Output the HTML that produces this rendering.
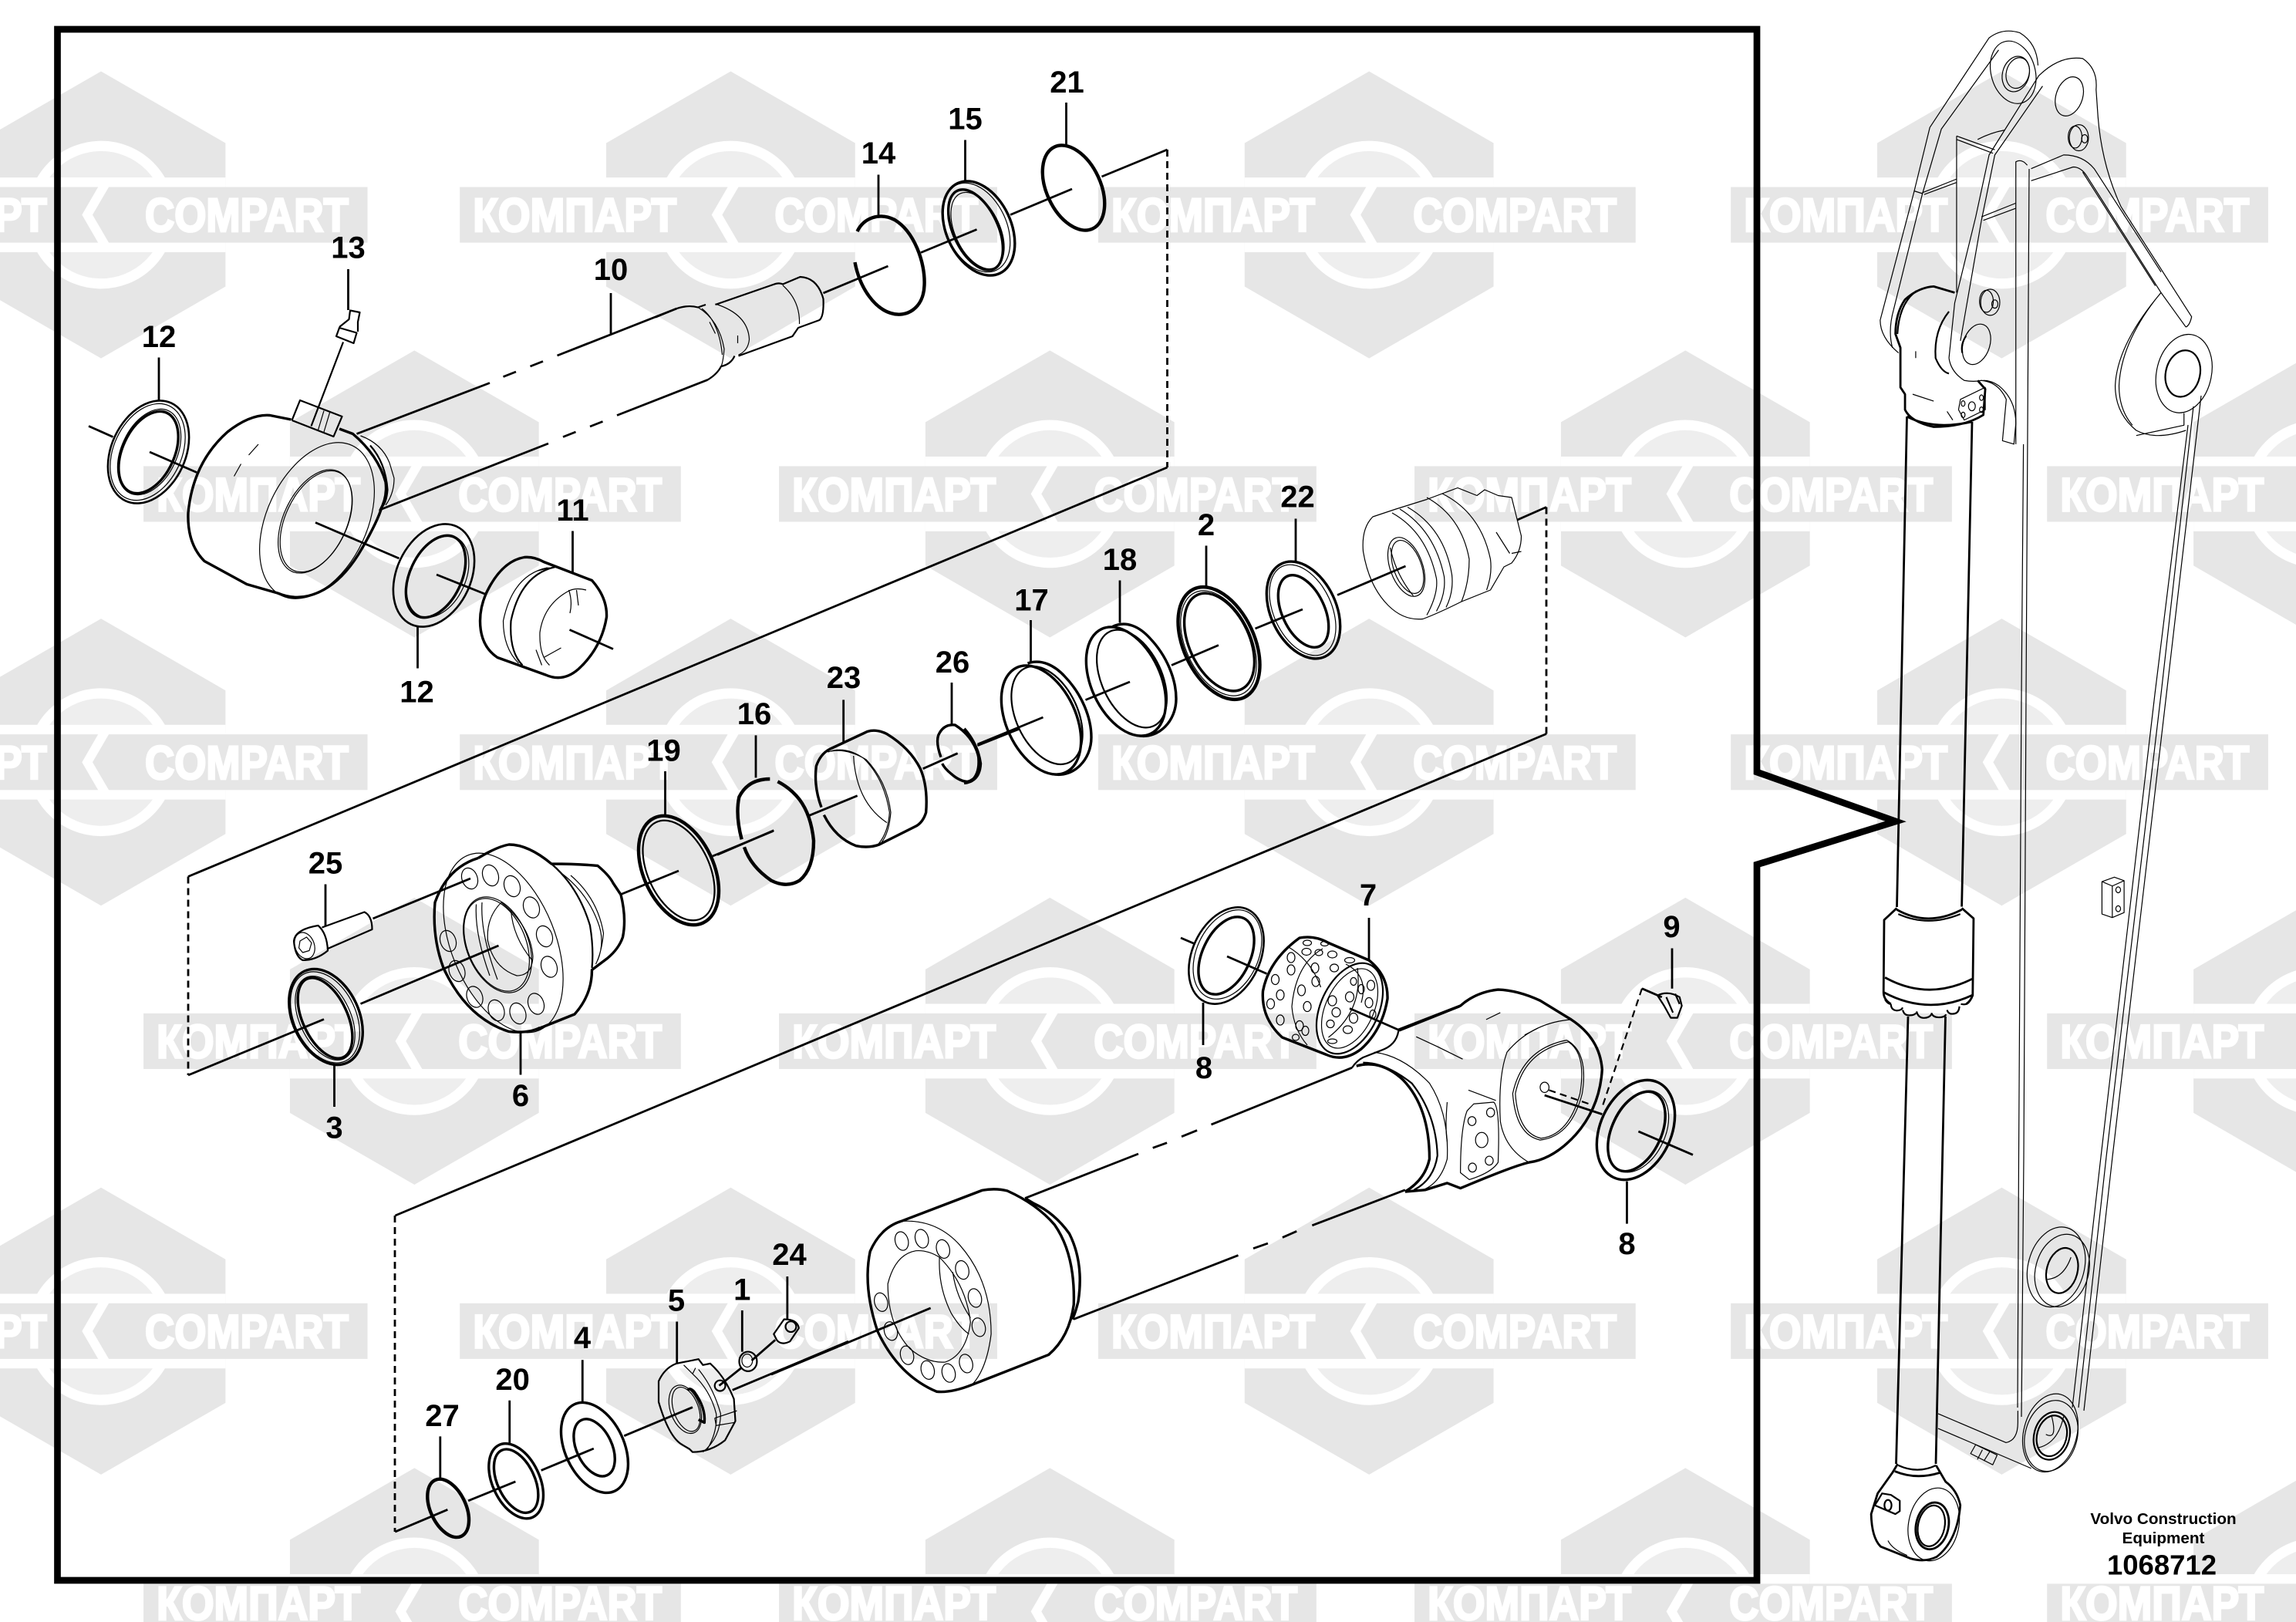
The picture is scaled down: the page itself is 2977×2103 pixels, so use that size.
<!DOCTYPE html>
<html><head><meta charset="utf-8"><style>
html,body{margin:0;padding:0;background:#fff;width:2977px;height:2103px;overflow:hidden}
svg{display:block;overflow:hidden}
.d *{fill:none;stroke:#000;vector-effect:non-scaling-stroke;stroke-linejoin:round}
.h{stroke-width:3.4}.m{stroke-width:2.2}.t{stroke-width:1.2}
.d .h *{stroke-width:3.4}.d .m *{stroke-width:2.2}.d .t *{stroke-width:1.2}.d .k *{stroke-width:2.8}
.d .r{stroke-width:4.4}
.n text{font:bold 40px "Liberation Sans",sans-serif;text-anchor:middle;fill:#000}
.w text{font:bold 32px "Liberation Sans","DejaVu Sans",sans-serif;fill:#fff;stroke:#fff;stroke-width:1.5}
</style></head><body>
<svg xmlns="http://www.w3.org/2000/svg" width="2977" height="2103" viewBox="0 0 2977 2103">
<defs><g id="L">
<polygon points="0,-98 85,-49 85,49 0,98 -85,49 -85,-49" fill="#e6e6e6"/>
<circle r="47" fill="#eeeeee" stroke="#fff" stroke-width="7"/>
<rect x="-85" y="-25.5" width="170" height="51" fill="#fff"/>
<polygon points="-185,-19 -2,-19 -13,0 -2,19 -185,19" fill="#e6e6e6"/>
<polygon points="5.3,-19 -5.8,0 5.3,19 182,19 182,-19" fill="#e6e6e6"/>
</g></defs>
<rect width="2977" height="2103" fill="#fff"/>
<g class="w" transform="scale(1.8986)">
<use href="#L" x="69" y="146.7"/><use href="#L" x="499" y="146.7"/><use href="#L" x="935" y="146.7"/><use href="#L" x="1367" y="146.7"/>
<use href="#L" x="283" y="337.3"/><use href="#L" x="717" y="337.3"/><use href="#L" x="1151" y="337.3"/><use href="#L" x="1583" y="337.3"/>
<use href="#L" x="69" y="520.5"/><use href="#L" x="499" y="520.5"/><use href="#L" x="935" y="520.5"/><use href="#L" x="1367" y="520.5"/>
<use href="#L" x="283" y="711"/><use href="#L" x="717" y="711"/><use href="#L" x="1151" y="711"/><use href="#L" x="1583" y="711"/>
<use href="#L" x="69" y="909"/><use href="#L" x="499" y="909"/><use href="#L" x="935" y="909"/><use href="#L" x="1367" y="909"/>
<use href="#L" x="283" y="1100.5"/><use href="#L" x="717" y="1100.5"/><use href="#L" x="1151" y="1100.5"/><use href="#L" x="1583" y="1100.5"/>
<text x="-107" y="158" textLength="139" lengthAdjust="spacingAndGlyphs">КОМПАРТ</text><text x="99" y="158" textLength="139" lengthAdjust="spacingAndGlyphs">COMPART</text>
<text x="323" y="158" textLength="139" lengthAdjust="spacingAndGlyphs">КОМПАРТ</text><text x="529" y="158" textLength="139" lengthAdjust="spacingAndGlyphs">COMPART</text>
<text x="759" y="158" textLength="139" lengthAdjust="spacingAndGlyphs">КОМПАРТ</text><text x="965" y="158" textLength="139" lengthAdjust="spacingAndGlyphs">COMPART</text>
<text x="1191" y="158" textLength="139" lengthAdjust="spacingAndGlyphs">КОМПАРТ</text><text x="1397" y="158" textLength="139" lengthAdjust="spacingAndGlyphs">COMPART</text>
<text x="107" y="349" textLength="139" lengthAdjust="spacingAndGlyphs">КОМПАРТ</text><text x="313" y="349" textLength="139" lengthAdjust="spacingAndGlyphs">COMPART</text>
<text x="541" y="349" textLength="139" lengthAdjust="spacingAndGlyphs">КОМПАРТ</text><text x="747" y="349" textLength="139" lengthAdjust="spacingAndGlyphs">COMPART</text>
<text x="975" y="349" textLength="139" lengthAdjust="spacingAndGlyphs">КОМПАРТ</text><text x="1181" y="349" textLength="139" lengthAdjust="spacingAndGlyphs">COMPART</text>
<text x="1407" y="349" textLength="139" lengthAdjust="spacingAndGlyphs">КОМПАРТ</text>
<text x="-107" y="532" textLength="139" lengthAdjust="spacingAndGlyphs">КОМПАРТ</text><text x="99" y="532" textLength="139" lengthAdjust="spacingAndGlyphs">COMPART</text>
<text x="323" y="532" textLength="139" lengthAdjust="spacingAndGlyphs">КОМПАРТ</text><text x="529" y="532" textLength="139" lengthAdjust="spacingAndGlyphs">COMPART</text>
<text x="759" y="532" textLength="139" lengthAdjust="spacingAndGlyphs">КОМПАРТ</text><text x="965" y="532" textLength="139" lengthAdjust="spacingAndGlyphs">COMPART</text>
<text x="1191" y="532" textLength="139" lengthAdjust="spacingAndGlyphs">КОМПАРТ</text><text x="1397" y="532" textLength="139" lengthAdjust="spacingAndGlyphs">COMPART</text>
<text x="107" y="722.5" textLength="139" lengthAdjust="spacingAndGlyphs">КОМПАРТ</text><text x="313" y="722.5" textLength="139" lengthAdjust="spacingAndGlyphs">COMPART</text>
<text x="541" y="722.5" textLength="139" lengthAdjust="spacingAndGlyphs">КОМПАРТ</text><text x="747" y="722.5" textLength="139" lengthAdjust="spacingAndGlyphs">COMPART</text>
<text x="975" y="722.5" textLength="139" lengthAdjust="spacingAndGlyphs">КОМПАРТ</text><text x="1181" y="722.5" textLength="139" lengthAdjust="spacingAndGlyphs">COMPART</text>
<text x="1407" y="722.5" textLength="139" lengthAdjust="spacingAndGlyphs">КОМПАРТ</text>
<text x="-107" y="920.5" textLength="139" lengthAdjust="spacingAndGlyphs">КОМПАРТ</text><text x="99" y="920.5" textLength="139" lengthAdjust="spacingAndGlyphs">COMPART</text>
<text x="323" y="920.5" textLength="139" lengthAdjust="spacingAndGlyphs">КОМПАРТ</text><text x="529" y="920.5" textLength="139" lengthAdjust="spacingAndGlyphs">COMPART</text>
<text x="759" y="920.5" textLength="139" lengthAdjust="spacingAndGlyphs">КОМПАРТ</text><text x="965" y="920.5" textLength="139" lengthAdjust="spacingAndGlyphs">COMPART</text>
<text x="1191" y="920.5" textLength="139" lengthAdjust="spacingAndGlyphs">КОМПАРТ</text><text x="1397" y="920.5" textLength="139" lengthAdjust="spacingAndGlyphs">COMPART</text>
<text x="107" y="1106" textLength="139" lengthAdjust="spacingAndGlyphs">КОМПАРТ</text><text x="313" y="1106" textLength="139" lengthAdjust="spacingAndGlyphs">COMPART</text>
<text x="541" y="1106" textLength="139" lengthAdjust="spacingAndGlyphs">КОМПАРТ</text><text x="747" y="1106" textLength="139" lengthAdjust="spacingAndGlyphs">COMPART</text>
<text x="975" y="1106" textLength="139" lengthAdjust="spacingAndGlyphs">КОМПАРТ</text><text x="1181" y="1106" textLength="139" lengthAdjust="spacingAndGlyphs">COMPART</text>
<text x="1407" y="1106" textLength="139" lengthAdjust="spacingAndGlyphs">КОМПАРТ</text>
</g>

<g class="d">
<path d="M74.5,38H2278V1001L2458,1065L2278,1121V2049H74.5Z" style="stroke-width:8.7;stroke-linejoin:miter;stroke-miterlimit:10"/>

<g class="k" style="stroke-linecap:butt">
<path d="M1513.5,606L244,1136.5"/>
<path d="M2005,951.5L512.5,1576"/>
<path d="M722.5,461L877.5,400"/>
<path d="M800,538.5L917.5,492.5"/>
<path d="M1329,1553.6L1476,1496"/>
<path d="M1392,1710.5L1605.5,1627.6"/>
<path d="M1513.5,194V606M244,1136.5V1394M2005,657.5V951.5M512,1576V1986" style="stroke-dasharray:9 6"/>
<path d="M792,380V432.5M451.5,349V402"/>
</g>

<!-- Z5 -->
<g transform="translate(850,60) scale(.5)">
<g class="k">
<path d="M578,333V437M803,243V352M1065,146V257"/>
<path d="M435,640L603,570M688,535L833,475M920,437L1080,370M1157,338L1327,268"/>
</g>
<g class="h">
<path class="r" d="M523,480C540,445 580,430 620,450C670,480 700,560 697,620C695,680 650,705 610,692C570,680 530,630 517,560"/>
<ellipse cx="838" cy="472" rx="84" ry="129" transform="rotate(-25 838 472)"/>
<ellipse cx="830" cy="476" rx="58" ry="112" transform="rotate(-25 830 476)"/>
<ellipse class="r" cx="1084" cy="367" rx="70" ry="117" transform="rotate(-25 1084 367)"/>
</g>
<g class="m">
<path d="M0,703L55,680Q85,670 110,677L130,670M155,670L305,618Q320,612 330,617L375,598Q420,600 435,655Q437,700 425,710L370,730L355,752L215,803M205,803Q195,825 170,830Q160,850 135,865"/>
</g>
<g class="t">
<ellipse cx="832" cy="470" rx="78" ry="122" transform="rotate(-25 832 470)"/>
<ellipse cx="835" cy="478" rx="58" ry="106" transform="rotate(-25 835 478)"/>
<path d="M110,677Q165,710 178,785Q175,820 170,830M120,680Q165,715 173,800M155,668Q240,695 243,760Q240,790 215,800M330,620Q375,660 373,720M140,715L155,745M213,750V770"/>
</g>
</g>

<!-- Z4 -->
<g transform="translate(100,380) scale(.5)">
<g class="k">
<path d="M212,167V277M30,345L93,373M188,412L310,465M618,595L835,688M932,730L1057,780M883,865V973M1285,617V725M1277,873L1390,923M725,365L1070,233M1105,217L1138,204M1175,190L1208,177M785,562L1222,390M1260,373L1293,360M1330,346L1363,333"/>
</g>
<g class="h">
<ellipse cx="185" cy="412" rx="96" ry="140" transform="rotate(25 185 412)" style="stroke-width:2.6"/>
<ellipse cx="185" cy="413" rx="67" ry="113" transform="rotate(25 185 413)"/>
<ellipse cx="925" cy="732" rx="96" ry="140" transform="rotate(25 925 732)" style="stroke-width:2.6"/>
<ellipse cx="930" cy="735" rx="67" ry="113" transform="rotate(25 930 735)"/>
<path d="M555,328L500,317Q450,313 390,360Q300,440 288,570Q285,650 330,695L440,755L520,778Q560,795 600,785Q680,765 740,660Q780,590 790,555"/>
<path d="M680,352L715,365Q780,420 800,490Q805,530 785,565"/>
<path d="M1060,780Q1100,695 1160,685Q1185,683 1210,697L1335,745Q1375,790 1373,840Q1360,920 1300,975Q1260,1010 1215,990L1090,945Q1045,915 1045,850Q1045,815 1060,780Z"/>
</g>
<g class="m">
<path d="M557,330L578,278L687,320L665,372L557,330"/>
<path d="M690,127L607,345"/>
<path d="M672,112L680,90L725,103L717,130ZM680,88L705,68L708,45L733,50L728,75L728,100"/>
<path d="M760,395Q800,440 805,510Q802,545 790,555"/>
<path d="M1240,710Q1150,730 1125,850Q1120,930 1155,965"/>
</g>
<g class="t">
<ellipse cx="183" cy="412" rx="88" ry="132" transform="rotate(25 183 412)"/>
<ellipse cx="187" cy="412" rx="72" ry="118" transform="rotate(25 187 412)"/>
<ellipse cx="935" cy="735" rx="72" ry="112" transform="rotate(25 935 735)"/>
<ellipse cx="622" cy="590" rx="130" ry="215" transform="rotate(25 622 590)"/>
<ellipse cx="617" cy="592" rx="82" ry="143" transform="rotate(25 617 592)"/>
<ellipse cx="620" cy="592" rx="80" ry="140" transform="rotate(25 620 592)"/>
<path d="M470,392L445,420M425,443L407,475M640,305L625,355M655,310L640,360M735,370Q790,390 810,440L822,480Q822,520 800,550"/>
<path d="M1220,712Q1130,730 1105,850Q1105,920 1145,960M1320,770Q1290,762 1270,775Q1210,810 1200,880Q1198,940 1225,965M1295,770L1300,810M1275,770Q1285,800 1278,830M1190,925L1205,965M1210,945L1255,920M1195,720L1225,712"/>
</g>
</g>

<!-- Z12 -->
<g transform="translate(930,850) scale(.33333)">
<g class="k">
<path d="M0,775L220,680M358,622L545,545M150,310V475M491,172V340M800,440L935,380M1012,350L1176,285M912,105V268"/>
</g>
<g class="h">
<path class="r" d="M205,480Q120,480 85,550Q70,620 95,715M105,745Q130,820 210,875Q270,905 320,875Q375,830 375,720Q365,620 320,560Q285,515 235,490"/>
<path d="M435,365L585,295Q620,285 660,305Q750,360 790,440Q820,510 812,610Q800,650 770,665L630,735Q590,750 540,740Q460,710 415,620M405,590Q375,510 385,430Q400,385 435,365"/>
<path d="M870,395Q850,340 860,310Q880,265 925,270Q990,310 1015,385Q1025,460 985,490Q950,495 910,460Q885,440 875,420"/>
</g>
<g class="t">
<path d="M430,375Q500,350 570,400Q650,480 670,610Q665,690 625,735M440,372Q505,360 580,405Q660,490 675,610Q668,690 640,725M530,390Q540,570 660,650"/>
</g>
</g>

<!-- Z6 -->
<g transform="translate(1250,600) scale(.5)">
<g class="k">
<path d="M173,408V518M404,305V415M628,215V325M860,145V255M1050,1180V1290M620,1400V1510M35,730L205,660M315,615L430,568M538,525L660,473M755,430L878,380M968,343L1145,268M1435,148L1510,115M682,1280L785,1325M1000,1415L1130,1472L1285,1410M562,1232L597,1247"/>
</g>
<g class="h">
<ellipse cx="200" cy="667" rx="90" ry="150" transform="rotate(-25 200 667)"/>
<path d="M165,520C200,508 235,525 262,555C305,600 330,660 330,712C330,770 285,815 235,808"/>
<ellipse cx="420" cy="567" rx="90" ry="150" transform="rotate(-25 420 567)"/>
<path d="M385,425C420,408 455,425 482,455C525,500 550,560 550,612C550,670 505,715 455,708"/>
<ellipse class="r" cx="661" cy="468" rx="92" ry="155" transform="rotate(-25 661 468)"/>
<ellipse cx="662" cy="465" rx="78" ry="135" transform="rotate(-25 662 465)"/>
<ellipse cx="880" cy="382" rx="85" ry="133" transform="rotate(-25 880 382)"/>
<ellipse cx="880" cy="385" rx="55" ry="100" transform="rotate(-25 880 385)"/>
<path d="M870,1232Q910,1225 945,1245L1050,1290Q1100,1330 1098,1390Q1085,1470 1030,1520Q985,1555 940,1535L825,1490Q770,1440 775,1370Q790,1290 870,1232Z"/>
<ellipse cx="680" cy="1278" rx="88" ry="132" transform="rotate(25 680 1278)" style="stroke-width:2.6"/>
<ellipse cx="680" cy="1278" rx="62" ry="107" transform="rotate(25 680 1278)"/>
<path class="r" d="M0,690Q35,730 42,780Q40,825 0,830"/>
</g>
<g class="m">
<ellipse cx="215" cy="655" rx="80" ry="135" transform="rotate(-25 215 655)"/>
<ellipse cx="435" cy="560" rx="78" ry="135" transform="rotate(-25 435 560)"/>
<ellipse cx="1000" cy="1415" rx="75" ry="125" transform="rotate(25 1000 1415)"/>
</g>
<g class="t">
<ellipse cx="660" cy="468" rx="85" ry="145" transform="rotate(-25 660 468)"/>
<ellipse cx="878" cy="382" rx="75" ry="125" transform="rotate(-25 878 382)"/>
<ellipse cx="1000" cy="1415" rx="62" ry="110" transform="rotate(25 1000 1415)"/>
<ellipse cx="683" cy="1275" rx="80" ry="122" transform="rotate(25 683 1275)"/>
<path d="M1060,140Q1030,170 1035,230Q1050,320 1100,370Q1140,410 1190,405Q1230,390 1290,360L1365,330L1400,270L1420,260Q1445,230 1445,190L1420,90L1385,85L1350,70L1330,85L1280,65L1200,95L1120,120Z"/>
<ellipse cx="1147" cy="270" rx="42" ry="80" transform="rotate(-20 1147 270)"/>
<ellipse cx="1150" cy="270" rx="36" ry="72" transform="rotate(-20 1150 270)"/>
<path d="M1110,130Q1200,180 1225,300Q1230,340 1200,395M1130,120Q1220,175 1245,295Q1250,340 1225,385M1150,115Q1245,170 1265,290Q1270,335 1250,375M1200,90Q1290,140 1310,250Q1310,310 1290,360M1240,80Q1340,130 1365,250Q1370,290 1355,330M1105,220Q1120,290 1165,345M1380,180L1415,235M1420,235L1445,230"/>
<path d="M840,1255Q900,1290 925,1360M930,1260Q860,1300 850,1410Q855,1470 890,1510M990,1300Q1050,1330 1030,1400M1020,1310Q1035,1420 945,1490"/>
<g>
<ellipse cx="890" cy="1245" rx="11" ry="7"/><ellipse cx="935" cy="1247" rx="10" ry="6"/><ellipse cx="848" cy="1283" rx="10" ry="13"/><ellipse cx="888" cy="1268" rx="12" ry="9"/><ellipse cx="955" cy="1275" rx="12" ry="9"/><ellipse cx="920" cy="1270" rx="10" ry="8"/><ellipse cx="1000" cy="1290" rx="13" ry="7"/><ellipse cx="807" cy="1340" rx="10" ry="13"/><ellipse cx="848" cy="1315" rx="10" ry="13"/><ellipse cx="910" cy="1310" rx="10" ry="13"/><ellipse cx="960" cy="1310" rx="11" ry="10"/><ellipse cx="820" cy="1380" rx="10" ry="13"/><ellipse cx="875" cy="1368" rx="10" ry="14"/><ellipse cx="912" cy="1345" rx="10" ry="13"/><ellipse cx="795" cy="1403" rx="10" ry="13"/><ellipse cx="890" cy="1410" rx="10" ry="13"/><ellipse cx="820" cy="1445" rx="10" ry="13"/><ellipse cx="870" cy="1460" rx="10" ry="13"/><ellipse cx="885" cy="1473" rx="9" ry="12"/><ellipse cx="860" cy="1490" rx="9" ry="8"/><ellipse cx="1055" cy="1355" rx="10" ry="13"/><ellipse cx="1010" cy="1345" rx="8" ry="10"/><ellipse cx="1050" cy="1400" rx="10" ry="13"/><ellipse cx="1000" cy="1385" rx="11" ry="13"/><ellipse cx="955" cy="1395" rx="11" ry="13"/><ellipse cx="965" cy="1425" rx="11" ry="12"/><ellipse cx="1010" cy="1440" rx="11" ry="13"/><ellipse cx="995" cy="1470" rx="12" ry="10"/><ellipse cx="950" cy="1455" rx="10" ry="10"/><ellipse cx="1060" cy="1430" rx="8" ry="11"/><ellipse cx="1030" cy="1365" rx="8" ry="12"/><ellipse cx="955" cy="1500" rx="12" ry="6"/>
</g>
</g>
</g>

<!-- Z7 -->
<g transform="translate(220,1000) scale(.5)">
<g class="k">
<path d="M404,293V403M427,762V870M910,677V787M1285,0V115M48,788L400,643M495,603L853,452M527,382L780,278M1168,320L1320,258M1408,220L1565,155"/>
</g>
<g class="h">
<path d="M800,225Q850,195 880,190Q930,190 990,240Q1060,240 1110,245Q1140,270 1150,290L1170,320Q1185,380 1175,430Q1165,460 1135,485L1095,515Q1095,580 1050,630L950,670"/>
<path d="M800,225Q720,250 688,340Q680,430 710,510Q770,640 880,675Q930,680 960,665"/>
<ellipse class="r" cx="1320" cy="257" rx="91" ry="150" transform="rotate(-25 1320 257)"/>
<ellipse cx="405" cy="637" rx="86" ry="131" transform="rotate(-25 405 637)"/>
<ellipse cx="403" cy="640" rx="58" ry="112" transform="rotate(-25 403 640)"/>
</g>
<g class="m">
<path d="M322,440Q325,410 385,400Q408,420 410,465Q380,490 345,490Q325,480 322,440ZM395,405L505,365Q525,375 525,410L410,460"/>
<path d="M990,240Q1060,300 1090,400Q1100,460 1095,510"/>
<ellipse cx="1320" cy="257" rx="80" ry="138" transform="rotate(-25 1320 257)"/>
</g>
<g class="t">
<ellipse cx="350" cy="452" rx="25" ry="35" transform="rotate(-20 350 452)"/>
<path d="M338,440L355,430L368,445L362,465L345,470L335,458Z"/>
<ellipse cx="865" cy="445" rx="135" ry="245" transform="rotate(-22 865 445)"/>
<path d="M1010,260Q1080,310 1110,390Q1130,440 1110,490M1040,270Q1110,330 1125,420Q1120,470 1105,500"/>
<ellipse cx="850" cy="450" rx="80" ry="130" transform="rotate(-22 850 450)"/>
<ellipse cx="848" cy="450" rx="76" ry="126" transform="rotate(-22 848 450)"/>
<path d="M860,340Q820,380 825,440Q840,510 900,530Q940,530 942,480Q935,400 860,340M885,360Q890,430 940,490M795,345Q790,420 830,530M810,340Q805,420 850,540"/>
<ellipse cx="403" cy="638" rx="80" ry="125" transform="rotate(-25 403 638)"/>
<ellipse cx="403" cy="640" rx="66" ry="116" transform="rotate(-25 403 640)"/>
<g>
<ellipse cx="778" cy="278" rx="20" ry="28" transform="rotate(-20 778 278)"/><ellipse cx="832" cy="270" rx="20" ry="28" transform="rotate(-20 832 270)"/><ellipse cx="888" cy="298" rx="20" ry="28" transform="rotate(-20 888 298)"/><ellipse cx="938" cy="353" rx="20" ry="28" transform="rotate(-20 938 353)"/><ellipse cx="972" cy="428" rx="20" ry="28" transform="rotate(-20 972 428)"/><ellipse cx="984" cy="507" rx="20" ry="28" transform="rotate(-20 984 507)"/><ellipse cx="950" cy="603" rx="20" ry="28" transform="rotate(-20 950 603)"/><ellipse cx="903" cy="628" rx="20" ry="28" transform="rotate(-20 903 628)"/><ellipse cx="847" cy="620" rx="20" ry="28" transform="rotate(-20 847 620)"/><ellipse cx="791" cy="585" rx="20" ry="28" transform="rotate(-20 791 585)"/><ellipse cx="745" cy="518" rx="20" ry="28" transform="rotate(-20 745 518)"/><ellipse cx="722" cy="440" rx="20" ry="28" transform="rotate(-20 722 440)"/>
</g>
</g>
</g>

<!-- Z8 -->
<g transform="translate(500,1500) scale(.3827)">
<g class="k">
<path d="M185,947V1090M420,825V970M667,688V833M987,558V700M1208,520V660M1361,405V550M32,1270L210,1195M280,1165L440,1100M527,1062L705,988M808,945L1040,848M1175,790L1568,625M1240,690L1320,620M1130,775L1205,715"/>
</g>
<g class="h">
<ellipse class="r" cx="212" cy="1190" rx="60" ry="105" transform="rotate(-25 212 1190)"/>
<ellipse cx="442" cy="1098" rx="80" ry="135" transform="rotate(-25 442 1098)"/>
<ellipse cx="442" cy="1098" rx="63" ry="115" transform="rotate(-25 442 1098)"/>
<ellipse cx="708" cy="985" rx="100" ry="162" transform="rotate(-25 708 985)"/>
<ellipse cx="707" cy="985" rx="60" ry="103" transform="rotate(-25 707 985)"/>
<path d="M1025,790Q1030,780 1045,795Q1085,850 1080,900L1060,890"/>
</g>
<g class="m">
<path d="M925,760Q945,715 985,700L1060,685L1075,705L1100,700Q1150,745 1180,820L1185,895L1150,960Q1100,1000 1040,1000L1030,990L1005,975Q960,950 925,830Z"/>
<path d="M1315,600L1350,550Q1395,550 1400,580L1370,625Q1340,640 1325,620Z"/>
<ellipse cx="1228" cy="693" rx="30" ry="33"/>
<ellipse cx="1373" cy="575" rx="18" ry="18"/>
<ellipse cx="1133" cy="775" rx="18" ry="18"/>
</g>
<g class="t">
<path d="M1060,720Q1110,780 1135,870Q1135,950 1075,1000M1040,735Q1100,790 1120,870Q1125,930 1090,990M1115,885L1190,860M1115,885L1120,910L1180,900M1010,705L1040,735L1050,715"/>
<ellipse cx="1015" cy="855" rx="50" ry="85" transform="rotate(-20 1015 855)"/>
<ellipse cx="1018" cy="855" rx="42" ry="78" transform="rotate(-20 1018 855)"/>
<ellipse cx="1225" cy="690" rx="18" ry="22"/>
</g>
</g>

<!-- Z9 -->
<g transform="translate(1000,1500) scale(.3827)">
<g class="h">
<path d="M440,218L715,113Q760,105 800,115Q900,160 960,230Q1030,330 1025,500Q1010,610 940,670L680,772"/>
<path d="M440,218Q370,240 335,320Q310,440 360,590Q430,740 560,795Q610,800 680,772"/>
<path d="M860,140L890,158Q960,190 1010,260Q1060,360 1040,490Q1030,530 1020,550"/>
</g>
<g class="k"><path d="M0,737L540,512"/></g>
<g class="t">
<path d="M440,218Q560,210 640,300Q745,420 745,600Q730,720 680,772"/>
<path d="M490,318Q420,330 395,430Q395,570 470,650Q530,700 590,695Q660,670 675,560Q660,430 570,340Q530,315 490,318Z"/>
<path d="M570,340Q565,440 610,530Q640,580 670,600M615,390Q625,470 675,545"/>
<g>
<ellipse cx="442" cy="285" rx="22" ry="32" transform="rotate(-15 442 285)"/><ellipse cx="510" cy="277" rx="22" ry="32" transform="rotate(-15 510 277)"/><ellipse cx="582" cy="312" rx="22" ry="32" transform="rotate(-15 582 312)"/><ellipse cx="647" cy="383" rx="22" ry="32" transform="rotate(-15 647 383)"/><ellipse cx="690" cy="478" rx="22" ry="32" transform="rotate(-15 690 478)"/><ellipse cx="703" cy="577" rx="22" ry="32" transform="rotate(-15 703 577)"/><ellipse cx="660" cy="700" rx="22" ry="32" transform="rotate(-15 660 700)"/><ellipse cx="601" cy="732" rx="22" ry="32" transform="rotate(-15 601 732)"/><ellipse cx="530" cy="722" rx="22" ry="32" transform="rotate(-15 530 722)"/><ellipse cx="460" cy="672" rx="22" ry="32" transform="rotate(-15 460 672)"/><ellipse cx="405" cy="590" rx="22" ry="32" transform="rotate(-15 405 590)"/><ellipse cx="372" cy="492" rx="22" ry="32" transform="rotate(-15 372 492)"/>
</g>
</g>
</g>

<!-- lower ring 8 -->
<ellipse class="h" cx="2121" cy="1465" rx="46" ry="68" transform="rotate(25 2121 1465)"/>
<ellipse class="h" cx="2122" cy="1467" rx="32" ry="55" transform="rotate(25 2122 1467)"/>
<ellipse class="t" cx="2124" cy="1467" rx="35" ry="56" transform="rotate(25 2124 1467)"/>

<!-- Z3 -->
<g transform="translate(1400,1150) scale(.574,.4464)">
<g class="k">
<path d="M165,758L197,743M230,725L265,707M297,690L615,525M392,1050L425,1035M458,1018L490,1000M525,983L735,880"/>
<path d="M1050,605L1180,660M1262,710L1385,778M1236,855V978M1338,178V295M1270,295L1315,320"/>
</g>
<g class="h">
<path d="M720,415L860,345Q895,305 945,298Q990,300 1040,330L1110,385Q1175,440 1180,530Q1175,640 1120,720Q1070,790 1015,800Q980,810 860,875L830,860L780,880L735,885"/>
<path d="M625,520Q680,500 730,560Q790,640 790,790Q780,850 735,885"/>
</g>
<g class="m">
<path d="M640,510Q690,510 750,570Q805,660 808,780Q800,850 755,880"/>
<path d="M1270,295L1180,640" style="stroke-dasharray:9 6"/>
<path d="M1060,590L1150,630" style="stroke-dasharray:9 6"/>
<path d="M720,418Q715,460 680,475L640,495Q625,505 615,525"/>
<path d="M1305,315Q1330,300 1355,320L1360,345L1350,380L1335,380L1320,345Z"/>
<path d="M1325,320L1340,365M1345,310L1355,340"/>
</g>
<g class="t">
<path d="M665,480Q730,490 790,570Q835,660 830,790Q815,860 775,880"/>
<path d="M1110,385Q1020,395 965,480Q945,550 950,680Q960,760 1015,800"/>
<path d="M1100,445Q1000,470 978,600Q985,720 1040,735Q1110,725 1135,600Q1150,480 1100,445Z"/>
<path d="M1104,450Q1004,475 984,600Q990,715 1042,730Q1105,720 1130,600Q1145,485 1104,450Z"/>
<path d="M890,630L935,625Q950,640 945,800Q930,830 880,850L860,830Q860,700 875,650Z"/>
<ellipse cx="928" cy="655" rx="9" ry="13"/><ellipse cx="886" cy="680" rx="9" ry="13"/><ellipse cx="908" cy="735" rx="14" ry="22"/><ellipse cx="925" cy="795" rx="9" ry="13"/><ellipse cx="887" cy="815" rx="9" ry="13"/>
<ellipse cx="1050" cy="582" rx="10" ry="15"/>
<path d="M878,590L940,620M830,625Q825,700 830,740M760,435L810,465L865,500M918,385L950,365M1005,430L1035,410"/>
</g>
</g>

<!-- Z2 boom top -->
<g transform="translate(2200,0) scale(.4955,.4464)">
<g class="k">
<path d="M675,850L620,832Q580,835 545,870Q520,910 520,970L533,1010L533,1125L545,1145L545,1190Q560,1225 620,1240Q700,1240 750,1205L755,1130L735,1105"/>
<path d="M550,1210Q620,1250 720,1225"/>
</g>
<g class="m">
<path d="M575,845Q530,880 525,970"/>
<path d="M660,905Q620,960 625,1040Q640,1080 660,1085"/>
<path d="M705,975Q690,1000 695,1025"/>
<ellipse cx="1272" cy="1085" rx="45" ry="68" transform="rotate(10 1272 1085)"/>
</g>
<g class="t">
<path d="M528,1025Q480,980 480,930L568,560L610,370L765,110Q800,80 845,95Q890,125 893,190"/>
<path d="M512,1010Q500,960 515,900L590,565L640,375L790,145"/>
<path d="M570,555L590,562"/>
<ellipse cx="828" cy="210" rx="58" ry="92" transform="rotate(-12 828 210)"/>
<ellipse cx="835" cy="215" rx="35" ry="52" transform="rotate(12 835 215)"/>
<ellipse cx="840" cy="212" rx="30" ry="45" transform="rotate(12 840 212)"/>
<path d="M660,1040L675,880L730,630L765,450L895,220Q950,160 1010,170Q1050,200 1045,260L1050,340Q1060,480 1110,600L1295,920Q1290,945 1280,950"/>
<path d="M690,990L745,640L780,450L905,250"/>
<path d="M660,1040Q665,1080 700,1105Q725,1110 745,1105Q790,1110 810,1160L800,1280L830,1290L835,1230Q835,1160 790,1120Q770,1105 750,1105"/>
<ellipse cx="975" cy="280" rx="35" ry="58" transform="rotate(15 975 280)"/>
<ellipse cx="732" cy="1000" rx="35" ry="60" transform="rotate(15 732 1000)"/>
<ellipse cx="1000" cy="400" rx="25" ry="38"/><ellipse cx="1015" cy="403" rx="8" ry="12"/><ellipse cx="990" cy="398" rx="18" ry="32"/>
<ellipse cx="768" cy="878" rx="25" ry="38"/><ellipse cx="780" cy="883" rx="8" ry="12"/><ellipse cx="758" cy="875" rx="18" ry="32"/>
<path d="M680,395L780,435M680,395V850M680,520L590,560M735,405Q770,385 805,378M835,590L745,630M835,605L750,640M680,405L775,445M680,530L595,565"/>
<path d="M835,1290V470Q850,460 865,480"/>
<path d="M875,490L960,450Q1010,450 1040,490L1215,790M875,525L985,485Q1005,485 1020,510L1215,850L1280,950"/>
<path d="M1010,500L1200,830"/>
<path d="M1215,850Q1100,1000 1095,1120Q1095,1200 1150,1250Q1200,1280 1280,1250M1200,870Q1110,1000 1105,1120Q1105,1190 1140,1235"/>
<ellipse cx="1275" cy="1085" rx="72" ry="115" transform="rotate(10 1275 1085)"/>
<path d="M1275,1200L1275,1235L1150,1265"/>
<path d="M690,1160L755,1125L755,1190L700,1220L685,1190Z"/>
<ellipse cx="720" cy="1180" rx="9" ry="13"/><ellipse cx="745" cy="1155" rx="5" ry="8"/><ellipse cx="745" cy="1190" rx="5" ry="8"/><ellipse cx="697" cy="1172" rx="5" ry="8"/><ellipse cx="697" cy="1205" rx="5" ry="8"/>
<path d="M565,1145L620,1165M655,1195L670,1220M573,1020V1040"/>
</g>
</g>

<!-- boom long lines -->
<g class="t">
<path d="M2623.6,576L2621,900L2617.5,1500L2616,1825"/>
<path d="M2631,219L2627,900L2624,1500L2621,1837"/>
<path d="M2837,551L2794,900L2724,1500L2687,1825"/>
<path d="M2844,527L2802,900L2731,1500L2695,1825"/>
<path d="M2854,513L2809,900L2739,1500L2702,1829"/>
</g>
<g class="k">
<path d="M2472.5,540L2459.5,1176M2557,547L2543.6,1175.5"/>
<path d="M2474,1318L2458.5,1898M2522.5,1318L2510,1898"/>
</g>

<!-- Z10 -->
<g transform="translate(2270,900) scale(.3827)">
<g class="k">
<path d="M495,725L452,765L450,1010Q450,1035 475,1050M715,725L755,760L752,1020Q745,1040 730,1050"/>
<path d="M495,730Q600,790 715,730M455,960Q600,1040 750,965M450,1010Q600,1090 750,1020"/>
</g>
<g class="m">
<path d="M500,745Q600,790 710,745"/>
<path d="M455,1035q10,15 20,15M475,1050q0,20 20,22q15,0 20,-10M515,1070q5,20 25,18q15,0 20,-8M562,1075q5,22 25,22q18,0 25,-12M612,1080q5,15 25,15q20,0 25,-10M665,1070q5,15 20,13q20,0 22,-25M712,1050q25,5 32,-15"/>
</g>
<g class="t">
<path d="M1190,635L1232,620L1265,632L1265,740L1225,757L1190,745ZM1190,635L1225,650L1265,632M1225,650V757"/>
<ellipse cx="1245" cy="663" rx="8" ry="10"/><ellipse cx="1245" cy="727" rx="8" ry="10"/>
</g>
</g>

<!-- Z11 -->
<g transform="translate(2270,1500) scale(.3827)">
<g class="k">
<path d="M498,1040L480,1070L430,1140L408,1210Q410,1290 440,1320L540,1360Q590,1375 630,1355Q700,1300 710,1180Q700,1130 660,1100L628,1045"/>
<path d="M488,1065Q560,1095 640,1070"/>
<ellipse cx="615" cy="1250" rx="55" ry="80" transform="rotate(12 615 1250)"/>
</g>
<g class="m">
<path d="M500,1045Q565,1075 628,1045"/>
<ellipse cx="612" cy="1250" rx="45" ry="70" transform="rotate(12 612 1250)"/>
<path d="M430,1165L445,1140L475,1145L505,1165L505,1200L490,1210L420,1180Z"/>
<ellipse cx="465" cy="1180" rx="12" ry="18"/>
<ellipse cx="1055" cy="385" rx="52" ry="78" transform="rotate(15 1055 385)"/>
<ellipse cx="1020" cy="945" rx="60" ry="82" transform="rotate(15 1020 945)"/>
<ellipse cx="1020" cy="945" rx="50" ry="70" transform="rotate(15 1020 945)"/>
</g>
<g class="t">
<ellipse cx="620" cy="1245" rx="85" ry="125" transform="rotate(12 620 1245)"/>
<path d="M465,1300Q480,1330 530,1350"/>
<ellipse cx="1035" cy="373" rx="95" ry="138" transform="rotate(15 1035 373)"/>
<ellipse cx="1055" cy="385" rx="90" ry="125" transform="rotate(15 1055 385)"/>
<ellipse cx="1015" cy="935" rx="90" ry="135" transform="rotate(15 1015 935)"/>
<ellipse cx="1018" cy="945" rx="88" ry="122" transform="rotate(15 1018 945)"/>
<path d="M1005,415Q1060,410 1085,340M1000,940Q1040,960 1020,880M975,985Q1040,970 1060,880"/>
<path d="M905,860V900Q905,960 865,968L635,870M635,920L950,1055"/>
<path d="M745,1005L762,975L835,1010L820,1043ZM785,992L768,1025M812,995L790,1030"/>
</g>
</g>
</g>

<g class="n">
<text x="451.5" y="334.4">13</text>
<text x="206" y="449.8">12</text>
<text x="792" y="362.8">10</text>
<text x="742.5" y="674.8">11</text>
<text x="540.5" y="910.3">12</text>
<text x="1139" y="211.8">14</text>
<text x="1251.5" y="167.3">15</text>
<text x="1383.5" y="119.8">21</text>
<text x="422" y="1132.3">25</text>
<text x="433.5" y="1475.3">3</text>
<text x="675" y="1433.8">6</text>
<text x="860.5" y="986.3">19</text>
<text x="978" y="938.8">16</text>
<text x="1094" y="891.8">23</text>
<text x="1235" y="871.8">26</text>
<text x="1337.5" y="791.3">17</text>
<text x="1452" y="738.8">18</text>
<text x="1564" y="693.8">2</text>
<text x="1682.5" y="657.3">22</text>
<text x="1774" y="1173.8">7</text>
<text x="1561" y="1397.8">8</text>
<text x="2167.5" y="1214.8">9</text>
<text x="2109.5" y="1625.8">8</text>
<text x="877" y="1699.4">5</text>
<text x="962.3" y="1685.3">1</text>
<text x="1023.5" y="1639.8">24</text>
<text x="755" y="1747.8">4</text>
<text x="664.6" y="1801.8">20</text>
<text x="573.5" y="1848.8">27</text>
<text x="2805" y="1976" style="font-size:20.7px">Volvo Construction</text>
<text x="2805" y="2001" style="font-size:20.7px">Equipment</text>
<text x="2803" y="2041.5" style="font-size:36.5px">1068712</text>
</g>
</svg>
</body></html>
